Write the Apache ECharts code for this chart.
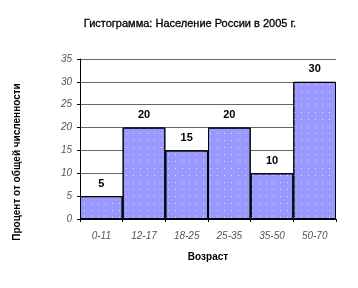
<!DOCTYPE html>
<html><head><meta charset="utf-8">
<script src="https://cdn.jsdelivr.net/npm/echarts@6/dist/echarts.min.js"></script>
<style>html,body{margin:0;padding:0;background:#fff}#c{width:358px;height:288px}</style>
</head><body><div id="c"></div>
<script>
const categories = ['0-11', '12-17', '18-25', '25-35', '35-50', '50-70'];
const values = [5, 20, 15, 20, 10, 30];
const yTicks = [0, 5, 10, 15, 20, 25, 30, 35];

const chart = echarts.init(document.getElementById('c'));
chart.setOption({
  animation: false,
  backgroundColor: '#fff',
  title: {
    text: 'Гистограмма: Население России в 2005 г.',
    left: 185, top: 13, textAlign: 'center',
    textStyle: {fontFamily: 'Liberation Sans, Arial', fontSize: 11, fontWeight: 'normal', color: '#000', textBorderColor: '#000', textBorderWidth: 0.3}
  },
  graphic: [{
    type: 'text', x: 17, y: 162, rotation: Math.PI / 2,
    style: {text: 'Процент от общей численности', fontFamily: 'Liberation Sans, Arial', fontSize: 10, fontWeight: 'bold', fill: '#000', align: 'center', verticalAlign: 'middle'}
  }],
  grid: {left: 80, right: 22, top: 59, bottom: 69},
  xAxis: {
    type: 'category', data: categories, boundaryGap: true,
    name: 'Возраст', nameLocation: 'middle', nameGap: 33,
    nameTextStyle: {fontFamily: 'Liberation Sans, Arial', fontSize: 10, fontWeight: 'bold', color: '#000'},
    axisLine: {lineStyle: {color: '#000', width: 1}},
    axisTick: {show: true, length: 3, lineStyle: {color: '#000'}},
    axisLabel: {fontFamily: 'Liberation Sans, Arial', fontSize: 10, fontStyle: 'italic', color: '#555', margin: 12}
  },
  yAxis: {
    type: 'value', min: 0, max: 35, interval: 5,
    axisLine: {show: true, lineStyle: {color: '#000', width: 1}},
    axisTick: {show: true, length: 3, lineStyle: {color: '#000'}},
    axisLabel: {fontFamily: 'Liberation Sans, Arial', fontSize: 10, fontStyle: 'italic', color: '#555', margin: 8,
      formatter: v => yTicks.includes(v) ? String(v) : ''},
    splitLine: {lineStyle: {color: '#666', width: 1}}
  },
  series: [{
    type: 'bar', data: values, barWidth: '100%', barCategoryGap: 0,
    itemStyle: {color: '#9999ff', borderColor: '#000', borderWidth: 1,
      decal: {symbol: 'rect', symbolSize: 1, color: 'rgba(255,255,255,0.7)', dashArrayX: [1, 6], dashArrayY: [1, 6], rotation: 0}},
    label: {show: true, position: 'top', distance: 7, fontFamily: 'Liberation Sans, Arial', fontSize: 11, fontWeight: 'bold', color: '#000'}
  }]
});
</script></body></html>
